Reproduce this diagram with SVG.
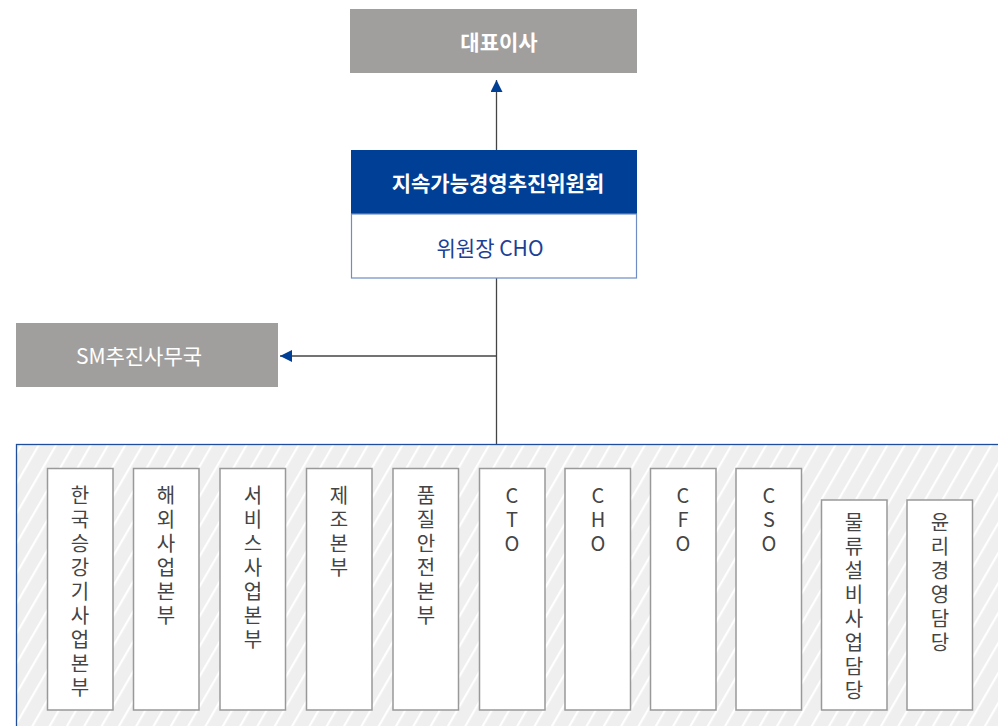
<svg xmlns="http://www.w3.org/2000/svg" width="998" height="726" viewBox="0 0 998 726">
<defs>
<style>
.gray{fill:#a09f9e}
.wt{fill:#fff;font-family:"Noto Sans CJK KR","Noto Sans",sans-serif;font-size:21px;text-anchor:middle}
.b{font-weight:bold}
.unit rect{fill:#fff;stroke:#999;stroke-width:1.5}
.unit text{fill:#444;font-family:"Noto Sans CJK KR","Noto Sans",sans-serif;font-size:20px;writing-mode:vertical-rl;text-orientation:upright;letter-spacing:4px}
.conn{stroke:#444;stroke-width:1.3;fill:none}
</style>
<pattern id="hatch" patternUnits="userSpaceOnUse" width="15" height="15" patternTransform="rotate(30)">
<rect width="15" height="15" fill="#efefef"/>
<rect x="0" y="0" width="2.2" height="15" fill="#fff"/>
</pattern>
<marker id="ah" viewBox="0 0 12 12" refX="12" refY="6" markerWidth="12" markerHeight="12" markerUnits="userSpaceOnUse" orient="auto">
<path d="M0,0 L12,6 L0,12 Z" fill="#003f96"/>
</marker>
</defs>
<rect width="998" height="726" fill="#fff"/>

<g id="connectors">
<line class="conn" x1="496.5" y1="150" x2="496.5" y2="80" marker-end="url(#ah)"/>
<line class="conn" x1="496.5" y1="278" x2="496.5" y2="445"/>
<line class="conn" x1="496.5" y1="356" x2="280" y2="356" marker-end="url(#ah)"/>
</g>

<g id="ceo">
<rect class="gray" x="350" y="9" width="287" height="64"/>
<text class="wt b" x="499" y="49.5">대표이사</text>
</g>

<g id="committee">
<rect x="351" y="150" width="286" height="64" fill="#003f96"/>
<text class="wt b" x="498" y="190.5">지속가능경영추진위원회</text>
<rect x="351.5" y="214" width="285" height="64" fill="#fff" stroke="#6f8cc4" stroke-width="1.2"/>
<text x="490" y="255.5" fill="#1b4096" font-family="'Noto Sans CJK KR','Noto Sans',sans-serif" font-size="21" text-anchor="middle">위원장 CHO</text>
</g>

<g id="sm">
<rect class="gray" x="16" y="323" width="262" height="64"/>
<text class="wt" x="139" y="363.5">SM추진사무국</text>
</g>

<g id="container">
<rect x="16.5" y="444.5" width="990" height="300" fill="url(#hatch)" stroke="#1f4e9c" stroke-width="1.3"/>
</g>

<g id="u1" class="unit"><rect x="47.5" y="468.5" width="65.5" height="241.5"/><text x="80" y="485">한국승강기사업본부</text></g>
<g id="u2" class="unit"><rect x="133.5" y="468.5" width="65.5" height="241.5"/><text x="166" y="485">해외사업본부</text></g>
<g id="u3" class="unit"><rect x="220" y="468.5" width="65.5" height="241.5"/><text x="253" y="485">서비스사업본부</text></g>
<g id="u4" class="unit"><rect x="306.5" y="468.5" width="65.5" height="241.5"/><text x="339" y="485">제조본부</text></g>
<g id="u5" class="unit"><rect x="393" y="468.5" width="65.5" height="241.5"/><text x="426" y="485">품질안전본부</text></g>
<g id="u6" class="unit"><rect x="479.5" y="468.5" width="65.5" height="241.5"/><text x="512" y="485">CTO</text></g>
<g id="u7" class="unit"><rect x="565" y="468.5" width="65.5" height="241.5"/><text x="598" y="485">CHO</text></g>
<g id="u8" class="unit"><rect x="650.5" y="468.5" width="65.5" height="241.5"/><text x="683" y="485">CFO</text></g>
<g id="u9" class="unit"><rect x="736" y="468.5" width="65.5" height="241.5"/><text x="769" y="485">CSO</text></g>
<g id="u10" class="unit"><rect x="821.5" y="500" width="65.5" height="210"/><text x="854" y="512">물류설비사업담당</text></g>
<g id="u11" class="unit"><rect x="907" y="500" width="65.5" height="210"/><text x="940" y="512">윤리경영담당</text></g>
</svg>
